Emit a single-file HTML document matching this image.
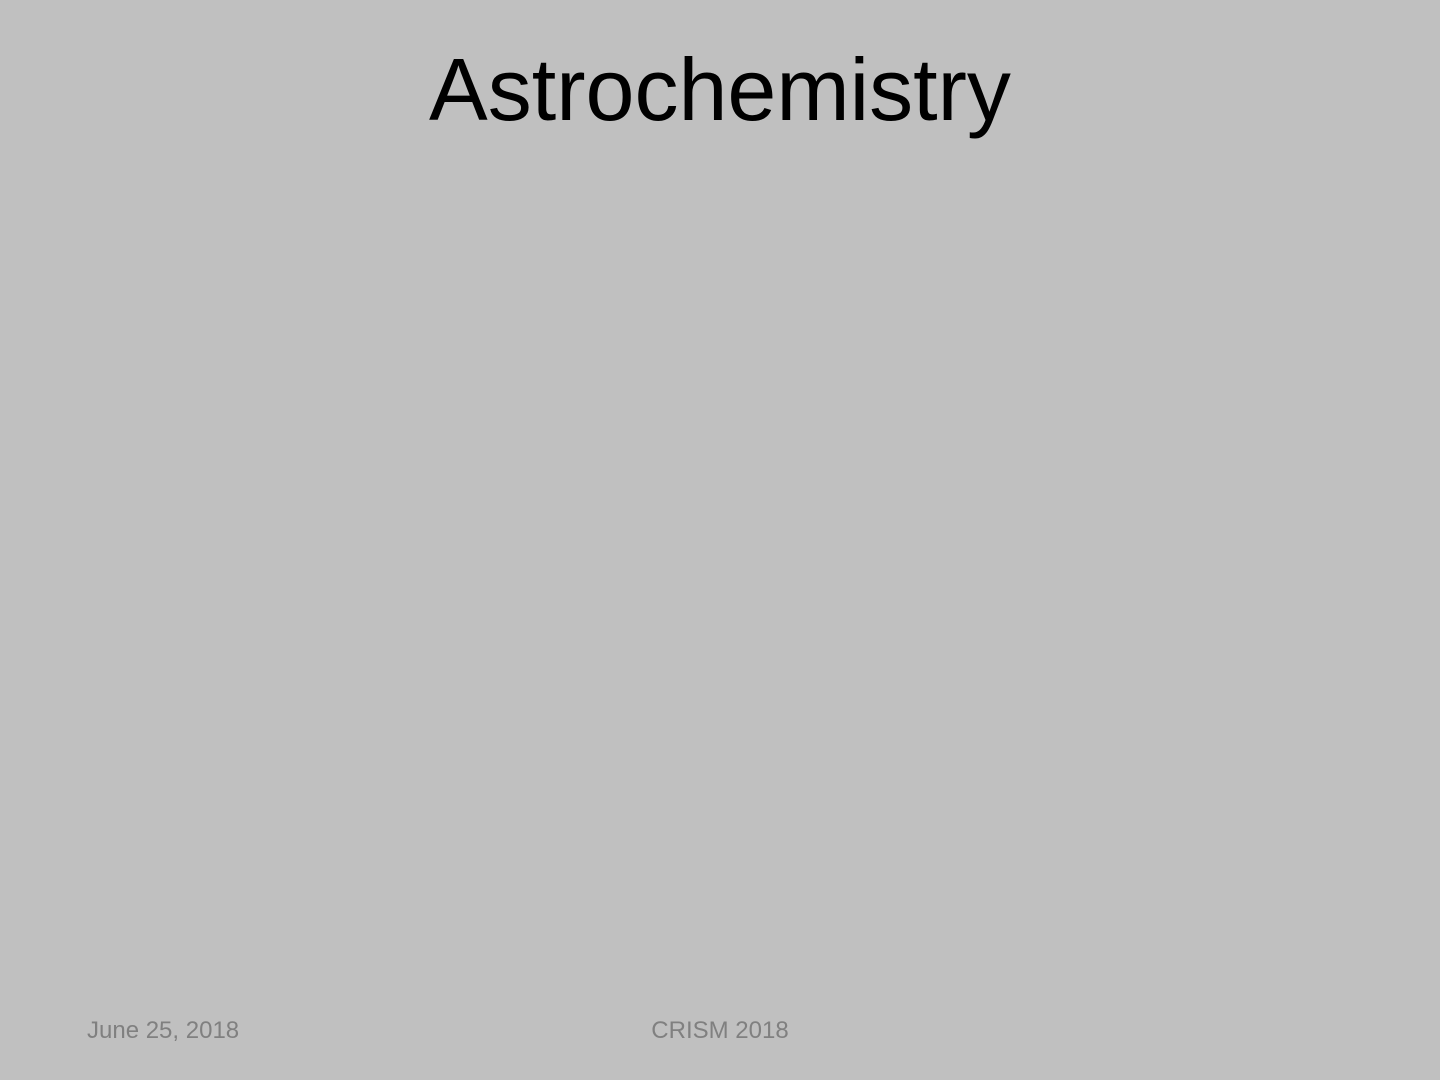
<!DOCTYPE html>
<html>
<head>
<meta charset="utf-8">
<style>
  html, body { margin:0; padding:0; }
  body { width:1440px; height:1080px; background:#c0c0c0; position:relative; overflow:hidden;
         font-family:"Liberation Sans", Arial, sans-serif; }
  #title { position:absolute; left:0; width:1440px; top:35px; text-align:center;
           font-size:88px; line-height:110px; color:#000; }
  .foot { position:absolute; top:1016px; font-size:24px; line-height:30px; color:#808080; }
  #date { left:87px; }
  #conf { left:0; width:1440px; text-align:center; }
</style>
</head>
<body>
  <div id="title">Astrochemistry</div>
  <div id="date" class="foot">June 25, 2018</div>
  <div id="conf" class="foot">CRISM 2018</div>
</body>
</html>
